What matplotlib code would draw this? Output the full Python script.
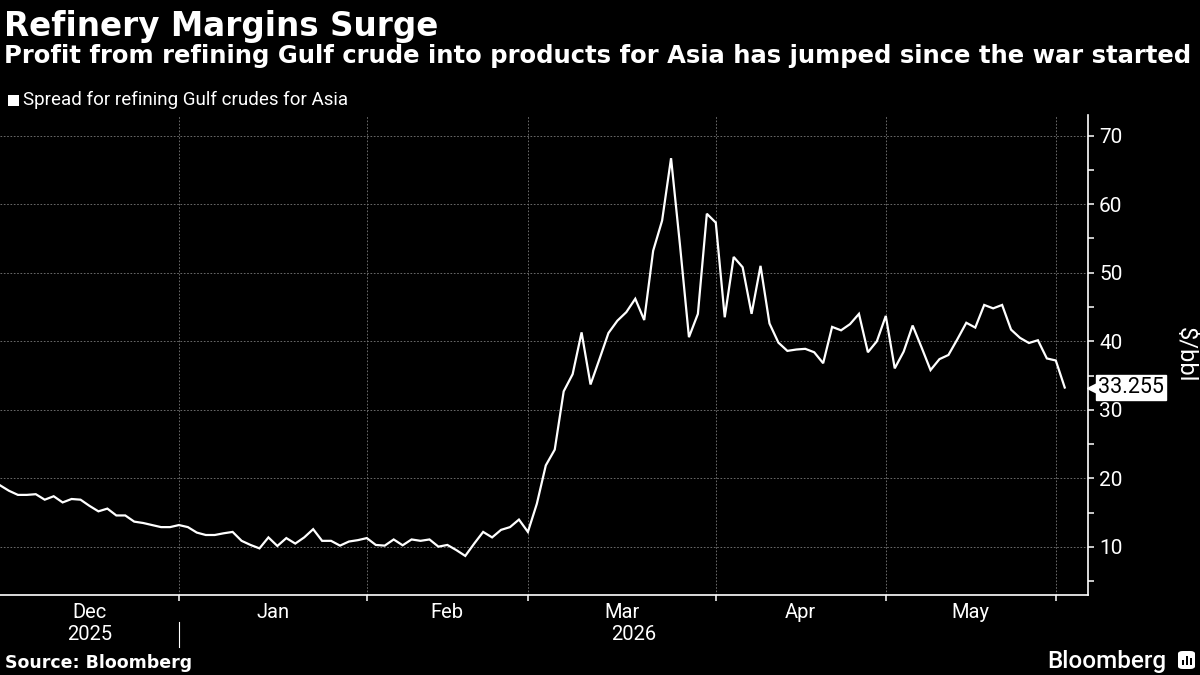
#!/usr/bin/env python3
"""Refinery margins chart, Bloomberg dark style."""

import matplotlib

matplotlib.use("Agg")
import matplotlib.pyplot as plt
import matplotlib.transforms as mtransforms
from matplotlib.patches import FancyBboxPatch, Rectangle

# trading-day series, Dec 2025 .. Jun 1 2026 ($/bbl)
spread = [
    19.0, 18.2, 17.6, 17.6, 17.7, 16.9, 17.4, 16.5, 17.0, 16.9,
    16.0, 15.2, 15.6, 14.6, 14.6, 13.7, 13.5, 13.2, 12.9, 12.9,
    13.2, 12.9, 12.1, 11.75, 11.75, 12.0, 12.2, 10.9, 10.3, 9.8,
    11.4, 10.15, 11.3, 10.5, 11.4, 12.6, 10.9, 10.9, 10.2, 10.8,
    11.0, 11.3, 10.3, 10.2, 11.1, 10.25, 11.1, 10.9, 11.1, 10.05,
    10.3, 9.55, 8.7, 10.5, 12.2, 11.4, 12.5, 12.9, 14.0, 12.2,
    16.3, 21.9, 24.2, 32.7, 35.2, 41.3, 33.7, 37.4, 41.2, 43.0,
    44.25, 46.2, 43.1, 53.2, 57.6, 66.7, 54.0, 40.6, 44.0, 58.6,
    57.3, 43.5, 52.3, 50.8, 44.0, 51.0, 42.6, 39.8, 38.6, 38.8,
    38.9, 38.4, 36.8, 42.1, 41.6, 42.5, 44.0, 38.4, 40.0, 43.7,
    36.05, 38.5, 42.3, 39.1, 35.8, 37.4, 38.0, 40.3, 42.7, 42.0,
    45.3, 44.8, 45.3, 41.7, 40.5, 39.75, 40.15, 37.5, 37.2, 33.255,
]

# index of first trading day of each month (Jan .. Jun)
month_starts = [20, 41, 59, 80, 99, 118]
month_labels = ["Dec", "Jan", "Feb", "Mar", "Apr", "May"]
year_labels = ["2025", "2026"]
y_ticks = [10, 20, 30, 40, 50, 60, 70]
y_minor = [5, 15, 25, 35, 45, 55, 65]

title = "Refinery Margins Surge"
subtitle = "Profit from refining Gulf crude into products for Asia has jumped since the war started"
legend_label = "Spread for refining Gulf crudes for Asia"
source = "Source: Bloomberg"

W, H = 1200, 675
BG = "black"
FG = "white"
GRID = "#7a7a7a"


def fx(px):
    return px / W


def fy(py):
    return 1 - py / H


def main() -> None:
    plt.rcParams["font.family"] = ["Roboto", "DejaVu Sans"]
    fig = plt.figure(figsize=(12, 6.75), dpi=100, facecolor=BG)
    ax = fig.add_axes([0, fy(595), fx(1088), fy(115) - fy(595)], facecolor=BG)

    x = list(range(len(spread)))
    ax.plot(x, spread, color=FG, lw=1.6, solid_joinstyle="miter", zorder=3)

    ax.set_xlim(0, 121.6)
    ax.set_ylim(3, 73)

    # spines
    for side in ("left", "top"):
        ax.spines[side].set_visible(False)
    for side in ("bottom", "right"):
        ax.spines[side].set_color(FG)
        ax.spines[side].set_linewidth(1.2)

    # grid
    for m in month_starts:
        ax.axvline(m, color=GRID, lw=0.6, ls=(0, (2, 2)), zorder=1)
    for v in y_ticks:
        ax.axhline(v, color=GRID, lw=0.6, ls=(0, (2, 2)), zorder=1)

    # y axis on the right
    ax.yaxis.tick_right()
    ax.set_yticks(y_ticks)
    ax.set_yticks(y_minor, minor=True)
    ax.tick_params(axis="y", which="both", colors=FG, direction="out", length=4, width=1.1,
                   labelsize=15, pad=4, labelcolor=FG)

    # x axis: ticks at month boundaries, labels centred in the month
    edges = [0] + month_starts
    centers = [(a + b) / 2 for a, b in zip(edges[:-1], edges[1:])]
    ax.set_xticks(month_starts)
    ax.set_xticklabels([])
    ax.set_xticks(centers, minor=True)
    ax.set_xticklabels(month_labels, minor=True)
    ax.tick_params(axis="x", which="major", colors=FG, direction="out", length=4, width=1.1)
    ax.tick_params(axis="x", which="minor", length=0, labelsize=14.5, labelcolor=FG, pad=6)

    # year row
    trans = mtransforms.blended_transform_factory(ax.transData, ax.transAxes)
    year_edges = [0, month_starts[0], ax.get_xlim()[1]]
    for i, lab in enumerate(year_labels):
        cx = (year_edges[i] + year_edges[i + 1]) / 2
        ax.text(cx, -0.082, lab, transform=trans, ha="center", va="center",
                color=FG, fontsize=14.5, clip_on=False)
    ax.plot([month_starts[0], month_starts[0]], [-0.056, -0.108], transform=trans,
            color=FG, lw=0.8, clip_on=False)

    # last value tag
    last = spread[-1]
    tag_trans = mtransforms.blended_transform_factory(ax.transAxes, ax.transData)
    ax.plot([1.0045], [last], marker="<", color=FG, markersize=9, transform=tag_trans,
            clip_on=False, zorder=5)
    ax.text(1.0095, last, f"{last:.3f}", transform=tag_trans, ha="left", va="center",
            color="black", fontsize=15.5, zorder=6, clip_on=False,
            bbox=dict(boxstyle="square,pad=0.1", fc=FG, ec=FG))

    fig.text(fx(1185), fy(355), "$/bbl", rotation=270, ha="center", va="center",
             color=FG, fontsize=17)

    # header
    fig.text(fx(4), fy(36), title, ha="left", va="baseline", color=FG, fontsize=23.5,
             fontweight="bold", family="DejaVu Sans")
    fig.text(fx(4), fy(63), subtitle, ha="left", va="baseline", color=FG, fontsize=17.5,
             fontweight="bold", family="DejaVu Sans")

    # legend
    fig.patches.append(Rectangle((fx(8), fy(106)), fx(11), 11 / H, transform=fig.transFigure,
                                 fc=FG, ec="none"))
    fig.text(fx(23), fy(100), legend_label, ha="left", va="center", color=FG, fontsize=13.5)

    # footer
    fig.text(fx(5), fy(668), source, ha="left", va="baseline", color=FG, fontsize=12.5,
             fontweight="bold", family="DejaVu Sans")
    fig.text(fx(1166), fy(668), "Bloomberg", ha="right", va="baseline", color=FG,
             fontsize=17.5, fontweight="medium")
    fig.patches.append(FancyBboxPatch((fx(1178), fy(669)), fx(17), 18 / H,
                                      boxstyle="round,pad=0,rounding_size=0.004",
                                      transform=fig.transFigure, fc=FG, ec="none"))
    for i, h in enumerate([5, 9, 7]):
        fig.patches.append(Rectangle((fx(1181.5 + i * 4), fy(665)), fx(2), h / H,
                                     transform=fig.transFigure, fc="black", ec="none"))

    fig.savefig("out.png", dpi=100, facecolor=BG)
    plt.close(fig)


if __name__ == "__main__":
    main()
